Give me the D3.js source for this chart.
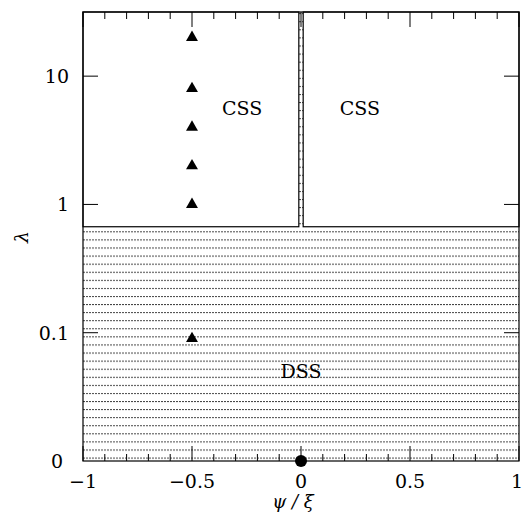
<!DOCTYPE html>
<html>
<head>
<meta charset="utf-8">
<script src="https://cdn.jsdelivr.net/npm/d3@7/dist/d3.min.js"></script>
<style>
body { margin: 0; background: #fff; }
text { font-family: "DejaVu Serif", serif; fill: #000; }
</style>
</head>
<body>
<svg id="chart"></svg>
<script>
// data
var psiMarkers = [-0.5, -0.5, -0.5, -0.5, -0.5, -0.5]; // triangles
var lamMarkers = [20, 8, 4, 2, 1, 0.09];
var psiCircle = [0];
var lamCircle = [0];   // lambda = 0 drawn at bottom
var lamCrit = 0.67;    // CSS / DSS boundary
var psiGap = 0.01;     // DSS strip at psi = 0
var xTicksMajor = [-1, -0.5, 0, 0.5, 1];
var xTickLabels = ["\u22121", "\u22120.5", "0", "0.5", "1"];
var yTicksMajor = [0, 0.1, 1, 10];
var yTickLabels = ["0", "0.1", "1", "10"];
var regionText = ["CSS", "CSS", "DSS"];
var regionPsi = [-0.27, 0.27, 0];
var regionLam = [5.6, 5.6, 0.05];

var svgWidth = 522, svgHeight = 517;
var pLeft = 83, pRight = 519, pTop = 12, pBottom = 461; // plot box
var lamFloor = 0.01; // where lambda=0 sits

var x = d3.scaleLinear().domain([-1, 1]).range([pLeft, pRight]);
var yLog = d3.scaleLog().domain([lamFloor, Math.pow(10, 1.5)]).range([pBottom, pTop]);
function y(v) { return v <= 0 ? yLog(lamFloor) : yLog(v); }

var svg = d3.select("#chart").attr("width", svgWidth).attr("height", svgHeight);

// hatch pattern for DSS
var defs = svg.append("defs");
var pat = defs.append("pattern")
    .attr("id", "hatch")
    .attr("patternUnits", "userSpaceOnUse")
    .attr("x", pLeft)
    .attr("y", y(lamCrit) + 4.6)
    .attr("width", 3)
    .attr("height", 8.08);
pat.append("rect").attr("x", 0).attr("y", 0).attr("width", 2).attr("height", 1).attr("fill", "#444");

svg.append("rect")
    .attr("x", pLeft).attr("y", pTop)
    .attr("width", pRight - pLeft).attr("height", pBottom - pTop)
    .attr("fill", "url(#hatch)");

// CSS boxes
var boxes = [[-1, -psiGap], [psiGap, 1]];
svg.selectAll("rect.css")
    .data(boxes)
    .enter()
    .append("rect")
    .attr("class", "css")
    .attr("x", function(d){ return x(d[0]); })
    .attr("y", pTop)
    .attr("width", function(d){ return x(d[1]) - x(d[0]); })
    .attr("height", y(lamCrit) - pTop)
    .attr("fill", "#fff")
    .attr("stroke", "#000")
    .attr("stroke-width", 1.2);

// frame
svg.append("rect")
    .attr("x", pLeft).attr("y", pTop)
    .attr("width", pRight - pLeft).attr("height", pBottom - pTop)
    .attr("fill", "none").attr("stroke", "#000").attr("stroke-width", 1.2);

// x ticks (inside, top and bottom)
var xMinor = d3.range(-10, 11).map(function(i){ return i / 10; });
var tk = svg.append("g").attr("stroke", "#000").attr("stroke-width", 1);
xMinor.forEach(function(v){
    var len = (Math.abs(v * 2 - Math.round(v * 2)) < 1e-9) ? 15 : 7;
    tk.append("line").attr("x1", x(v)).attr("x2", x(v)).attr("y1", pBottom).attr("y2", pBottom - len);
    tk.append("line").attr("x1", x(v)).attr("x2", x(v)).attr("y1", pTop).attr("y2", pTop + len);
});
yTicksMajor.forEach(function(v){
    if (v <= 0) return;
    tk.append("line").attr("x1", pLeft).attr("x2", pLeft + 15).attr("y1", y(v)).attr("y2", y(v));
    tk.append("line").attr("x1", pRight).attr("x2", pRight - 15).attr("y1", y(v)).attr("y2", y(v));
});

// tick labels
svg.selectAll("text.xl")
    .data(xTicksMajor)
    .enter()
    .append("text")
    .attr("x", function(d){ return d >= 1 ? x(d) - 2 : x(d); })
    .attr("y", 488)
    .attr("text-anchor", "middle")
    .style("font-size", "19px")
    .text(function(d, i){ return xTickLabels[i]; });

svg.selectAll("text.yl")
    .data(yTicksMajor)
    .enter()
    .append("text")
    .attr("x", function(d){ return d <= 0 ? 63 : 69; })
    .attr("y", function(d){ return y(d) + 7; })
    .attr("text-anchor", "end")
    .style("font-size", "19px")
    .text(function(d, i){ return yTickLabels[i]; });

// axis titles
svg.append("text")
    .attr("transform", "translate(28,237) rotate(-90)")
    .attr("text-anchor", "middle")
    .style("font-size", "19px")
    .style("font-style", "italic")
    .text("\u03bb");
svg.append("text")
    .attr("x", x(0) - 8).attr("y", 508)
    .attr("text-anchor", "middle")
    .style("font-size", "18px")
    .style("font-style", "italic")
    .text("\u03c8 / \u03be");

// region labels
svg.selectAll("text.reg")
    .data(regionText)
    .enter()
    .append("text")
    .attr("x", function(d, i){ return x(regionPsi[i]); })
    .attr("y", function(d, i){ return y(regionLam[i]) + 7; })
    .attr("text-anchor", "middle")
    .style("font-size", "19px")
    .text(function(d){ return d; });

// markers
svg.selectAll("path.tri")
    .data(psiMarkers)
    .enter()
    .append("path")
    .attr("d", d3.symbol().type(d3.symbolTriangle).size(62))
    .attr("transform", function(d, i){ return "translate(" + x(d) + "," + y(lamMarkers[i]) + ")"; })
    .attr("fill", "#000");

svg.selectAll("circle.pt")
    .data(psiCircle)
    .enter()
    .append("circle")
    .attr("cx", function(d){ return x(d); })
    .attr("cy", function(d, i){ return y(lamCircle[i]); })
    .attr("r", 6)
    .attr("fill", "#000");
</script>
</body>
</html>
